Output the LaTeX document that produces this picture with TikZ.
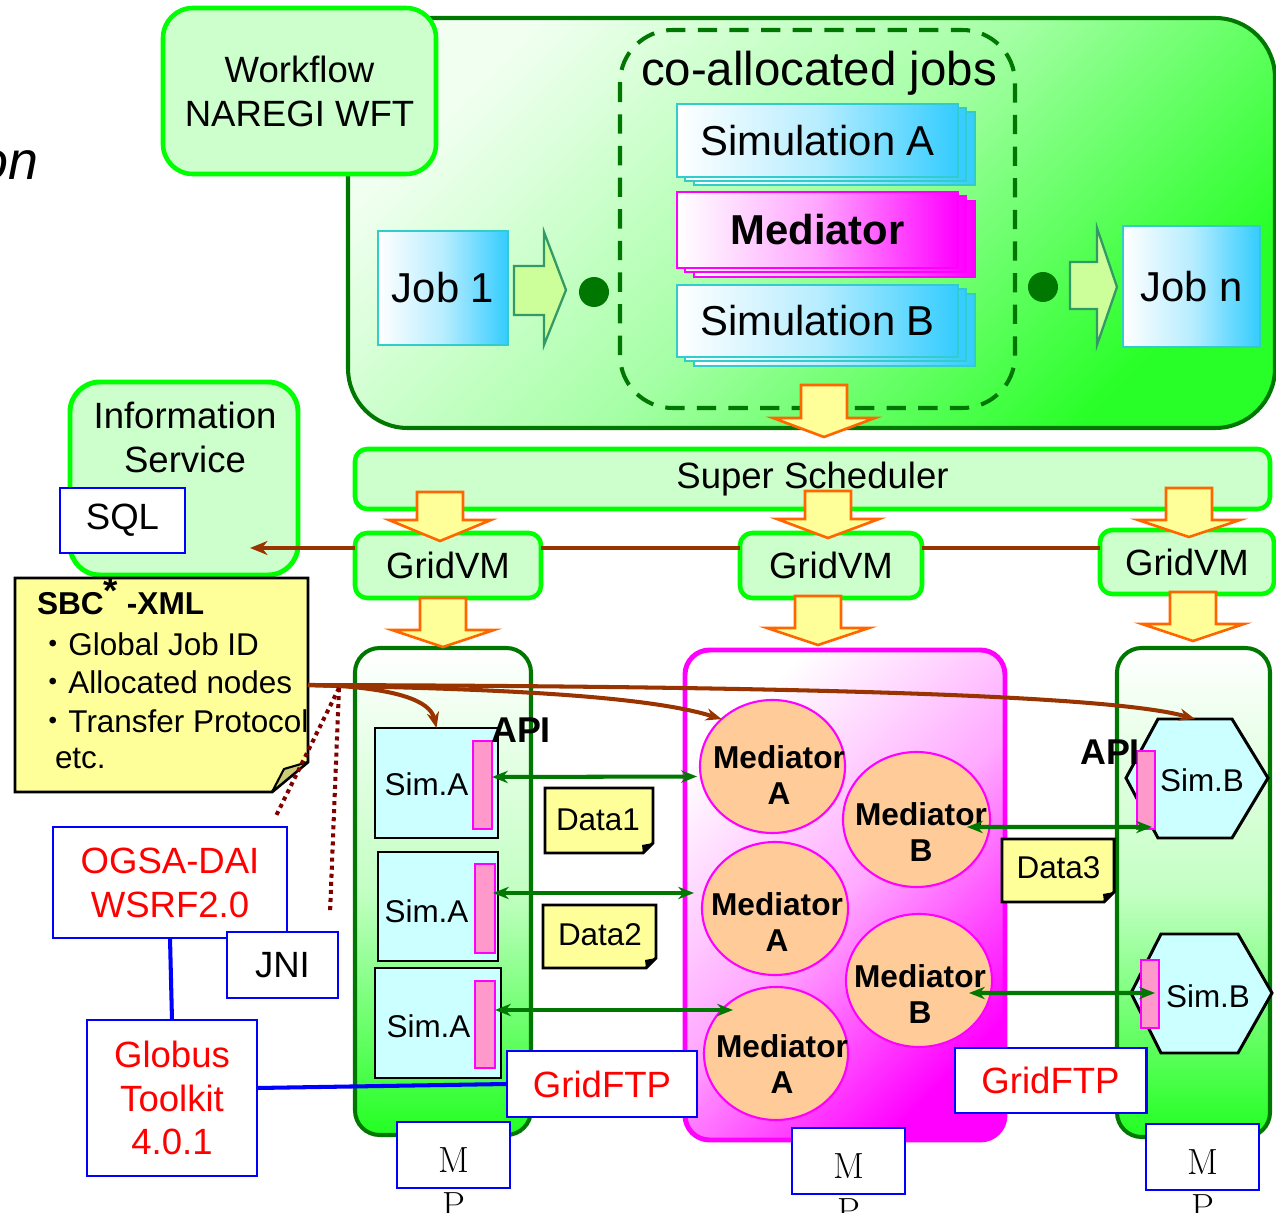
\documentclass[tikz,border=0pt]{standalone}
\usepackage{fontspec}
\setsansfont{Liberation Sans}
\newfontfamily\cjk{Noto Sans CJK JP}
\usetikzlibrary{arrows.meta,calc,shapes.geometric}
\definecolor{lgreen}{HTML}{CCFFCC}
\definecolor{bgreen}{HTML}{00FF00}
\definecolor{dgreen}{HTML}{007700}
\definecolor{skyb}{HTML}{33CCFF}
\definecolor{tealb}{HTML}{33CCCC}
\definecolor{magc}{HTML}{FF00FF}
\definecolor{notey}{HTML}{FFFF99}
\definecolor{orng}{HTML}{FF6600}
\definecolor{brn}{HTML}{993300}
\definecolor{drd}{HTML}{800000}
\definecolor{pinkbar}{HTML}{FF99CC}
\definecolor{simfill}{HTML}{CCFFFF}
\definecolor{medfill}{HTML}{FFCC99}
\definecolor{arrfill}{HTML}{CCFF99}
\definecolor{arrline}{HTML}{339966}
\definecolor{foldc}{HTML}{CCCC77}
\definecolor{vgreen}{HTML}{22FF22}
\definecolor{blu}{HTML}{0000FF}
\definecolor{topl}{RGB}{240,255,240}
\definecolor{botr}{RGB}{40,255,40}
\definecolor{midt}{RGB}{165,255,165}
\definecolor{midg}{RGB}{195,255,195}
\definecolor{midm}{RGB}{255,170,255}
\newcommand{\fatdown}[4]{%
  \draw[fatarrow] (#1-23,#2) -- (#1+23,#2) -- (#1+23,#3) -- (#1+51,#3) -- (#1,#4) -- (#1-51,#3) -- (#1-23,#3) -- cycle;}
\begin{document}
\begin{tikzpicture}[x=0.02cm,y=-0.02cm,
  every node/.style={font=\sffamily, inner sep=0pt, outer sep=0pt},
  sz/.style 2 args={minimum width=#1*0.02cm, minimum height=#2*0.02cm},
  f21/.style={font=\sffamily\fontsize{20.8pt}{25pt}\selectfont},
  f24/.style={font=\sffamily\fontsize{23.8pt}{28pt}\selectfont},
  f27/.style={font=\sffamily\fontsize{27pt}{32pt}\selectfont},
  f18/.style={font=\sffamily\fontsize{17.9pt}{22pt}\selectfont},
  f18b/.style={font=\sffamily\bfseries\fontsize{18pt}{21pt}\selectfont},
  apif/.style={font=\sffamily\bfseries\fontsize{20.4pt}{24pt}\selectfont},
  mpf/.style={font=\rmfamily\fontsize{20.7pt}{25pt}\selectfont},
  greenbox/.style={draw=bgreen, line width=2.6pt, fill=lgreen},
  jobbox/.style={draw=tealb, line width=1.2pt, left color=white, right color=skyb, middle color=skyb!35},
  medbox/.style={draw=magc, line width=1.2pt, left color=white, right color=magc, middle color=magc!35},
  fatarrow/.style={draw=orng, line width=1.5pt, fill=notey, line join=miter},
  blockarr/.style={draw=arrline, line width=1.3pt, fill=arrfill, line join=miter},
  simbox/.style={draw=black, line width=1.7pt, fill=simfill},
  apibar/.style={draw=magc, line width=0.6pt, fill=pinkbar},
  medell/.style={ellipse, draw=magc, line width=1.2pt, fill=medfill},
  notebox/.style={draw=black, line width=1.7pt, fill=notey, line join=miter},
  bluebox/.style={draw=blu, line width=1.5pt, fill=white},
  brnline/.style={draw=brn, line width=2.3pt},
  garrow/.style={draw=dgreen, line width=2.3pt, {Stealth[length=9pt,width=7pt]}-{Stealth[length=9pt,width=7pt]}},
  dotline/.style={draw=drd, line width=2.3pt, dash pattern=on 2.3pt off 2.3pt}
]
\useasboundingbox (0,0) rectangle (1276,1213);
\clip (0,0) rectangle (1276,1213);

% fragment of title
\node[font=\sffamily\itshape\fontsize{30.6pt}{36pt}\selectfont, anchor=base east] (onfrag) at (38,180) {on};

% top workflow area
\draw[draw=dgreen, line width=2.3pt, rounded corners=34pt, top color=topl, bottom color=botr, middle color=midt, shading angle=45] (348,18) rectangle (1275,428);
\node[greenbox, rounded corners=17pt, sz={273}{166}, f21, align=center] (wft) at (299.5,91) {Workflow\\NAREGI WFT};
\draw[draw=dgreen, line width=2.3pt, dash pattern=on 11pt off 7pt, rounded corners=30pt] (620,30) rectangle (1015,408);
\node[f27] (coalloc) at (819,73.5) {co-allocated jobs};

\foreach \d/\e in {17/8, 8/4} \draw[jobbox] (677+\d,104+\e) rectangle (958+\d,177+\e);
\node[jobbox, sz={281}{73}, f24] (simAtop) at (817.5,140.5) {Simulation A};
\foreach \d/\e in {17/9, 8/4} \draw[medbox] (677+\d,192+\e) rectangle (958+\d,268+\e);
\node[medbox, sz={281}{76}, f24] (medtop) at (817.5,230) {\bfseries Mediator};
\foreach \d/\e in {17/9, 8/4} \draw[jobbox] (677+\d,285+\e) rectangle (958+\d,357+\e);
\node[jobbox, sz={281}{72}, f24] (simBtop) at (817.5,321) {Simulation B};

\node[jobbox, sz={130}{114}, f24] (job1) at (443,288) {Job 1};
\node[jobbox, sz={137}{121}, f24] (jobn) at (1191.5,286.5) {Job n};
\draw[blockarr] (514,266) -- (544,266) -- (544,232) -- (566,290) -- (544,345) -- (544,315) -- (514,315) -- cycle;
\draw[blockarr] (1070,262) -- (1097,262) -- (1097,228) -- (1117,287) -- (1097,345) -- (1097,309) -- (1070,309) -- cycle;
\node[circle, fill=dgreen, sz={30}{30}] (dot1) at (594,292) {};
\node[circle, fill=dgreen, sz={30}{30}] (dot2) at (1043,287) {};

\fatdown{824}{385}{418}{437}

% scheduler
\node[greenbox, rounded corners=7pt, sz={915}{60}, f21] (ss) at (812.5,479) {Super Scheduler};

% information service
\node[greenbox, line width=2.8pt, rounded corners=17pt, sz={228}{193}] (is) at (184,478.5) {};
\node[f21, align=center] (istxt) at (185,437) {Information\\Service};
\node[bluebox, sz={125}{65}, f21] (sql) at (122.5,520.5) {SQL};

% GridVMs
\node[greenbox, rounded corners=7pt, sz={186}{65}, f21] (gvl) at (448,565.5) {GridVM};
\node[greenbox, rounded corners=7pt, sz={182}{65}, f21] (gvm) at (831,565.5) {GridVM};
\node[greenbox, rounded corners=7pt, sz={174}{64}, f21] (gvr) at (1187,562) {GridVM};
\coordinate (isin) at (250,548);
\draw[brnline] (gvr.west |- isin) -- (gvm.east |- isin);
\draw[brnline] (gvm.west |- isin) -- (gvl.east |- isin);
\draw[brnline, -{Stealth[length=10pt,width=8pt]}] (gvl.west |- isin) -- (isin);

\fatdown{440}{492}{520}{541}
\fatdown{828}{491}{519}{538}
\fatdown{1189}{488}{520}{537}

% containers
\node[draw=dgreen, line width=2.3pt, rounded corners=14pt, top color=white, bottom color=vgreen, middle color=midg, sz={176}{487}] (contL) at (443,891.5) {};
\node[draw=magc, line width=2.8pt, rounded corners=14pt, top color=white, bottom color=magc, middle color=midm, shading angle=45, sz={320}{490}] (contM) at (845,895) {};
\node[draw=dgreen, line width=2.3pt, rounded corners=14pt, top color=white, bottom color=vgreen, middle color=midg, sz={153}{489}] (contR) at (1193.5,892.5) {};

\fatdown{443}{598}{630}{647}
\fatdown{818}{596}{628}{645}
\fatdown{1193}{592}{624}{641}

% SBC note
\draw[notebox] (15,578) -- (308,578) -- (308,762) -- (272,792) -- (15,792) -- cycle;
\draw[line width=1.2pt, fill=foldc, line join=round] (272,792) -- (284,769) -- (308,762) -- cycle;
\node[anchor=base west, f18b] (sbct) at (37,614) {SBC\raisebox{6pt}{\fontsize{21pt}{21pt}\selectfont *} -XML};
\node[anchor=base west, f18] (sbc1) at (37,655) {{\cjk ・}Global Job ID};
\node[anchor=base west, f18] (sbc2) at (37,693) {{\cjk ・}Allocated nodes};
\node[anchor=base west, f18] (sbc3) at (37,732) {{\cjk ・}Transfer Protocol};
\node[anchor=base west, f18] (sbc4) at (55,768) {etc.};

% Sim.A boxes
\node[simbox, sz={123}{110}] (simA1) at (436.5,783) {};
\node[f18] (simA1t) at (426.5,784) {Sim.A};
\node[apibar, sz={19}{88}] (bar1) at (482.5,785) {};
\node[simbox, sz={120}{109}] (simA2) at (438,906.5) {};
\node[f18] (simA2t) at (426.5,911) {Sim.A};
\node[apibar, sz={20}{89}] (bar2) at (485,908.5) {};
\node[simbox, sz={126}{110}] (simA3) at (438,1023) {};
\node[f18] (simA3t) at (428.5,1026) {Sim.A};
\node[apibar, sz={20}{87}] (bar3) at (485,1024.5) {};
\node[apif] (api1) at (521,730.5) {API};

% mediators
\node[medell, sz={145}{133}] (ma1) at (772.5,766.5) {};
\node[f18b, align=center] (ma1t) at (779,775) {Mediator\\A};
\node[medell, sz={147}{135}] (mb1) at (916.5,819.5) {};
\node[f18b, align=center] (mb1t) at (921,832) {Mediator\\B};
\node[medell, sz={146}{133}] (ma2) at (775,908.5) {};
\node[f18b, align=center] (ma2t) at (777,922) {Mediator\\A};
\node[medell, sz={146}{133}] (mb2) at (919,980.5) {};
\node[f18b, align=center] (mb2t) at (920,994) {Mediator\\B};
\node[medell, sz={144}{133}] (ma3) at (776,1053.5) {};
\node[f18b, align=center] (ma3t) at (782,1064) {Mediator\\A};

% data notes
\draw[notebox] (545,788) -- (653,788) -- (653,843) -- (643,853) -- (545,853) -- cycle;
\fill (653,843) -- (643,853) -- (642,845) -- cycle;
\node[f18] (d1) at (598,820) {Data1};
\draw[notebox] (543,905) -- (656,905) -- (656,958) -- (646,968) -- (543,968) -- cycle;
\fill (656,958) -- (646,968) -- (645,960) -- cycle;
\node[f18] (d2) at (600,935) {Data2};
\draw[notebox] (1002,839) -- (1114,839) -- (1114,892) -- (1104,902) -- (1002,902) -- cycle;
\fill (1114,892) -- (1104,902) -- (1103,894) -- cycle;
\node[f18] (d3) at (1058.5,868) {Data3};

% Sim.B hexagons
\draw[simbox] (1126,778) -- (1158,719) -- (1232,719) -- (1268,778) -- (1232,838) -- (1158,838) -- cycle;
\coordinate (hexB1top) at (1195,719);
\node[apibar, sz={18}{78}] (pb1) at (1146,790) {};
\node[f18] (simB1t) at (1202,780) {Sim.B};
\draw[simbox] (1131,993) -- (1161,934) -- (1238,934) -- (1272,993) -- (1238,1053) -- (1161,1053) -- cycle;
\node[apibar, sz={18}{68}] (pb2) at (1150,994) {};
\node[f18] (simB2t) at (1208,996) {Sim.B};
\node[apif] (api2) at (1110,752) {API};

% green data arrows
\draw[garrow] ($(bar1.east)+(0,-8)$) -- ($(ma1.west)+(-3,10)$);
\draw[garrow] ($(bar2.east)+(-2,-15.5)$) -- ($(ma2.west)+(-8,-15.5)$);
\draw[garrow] ($(bar3.east)+(0,-14.5)$) -- ($(ma3.west)+(29,-43.5)$);
\draw[garrow] ($(mb1.center)+(50.5,7.5)$) -- ($(pb1.south east)+(-3,-2)$);
\draw[garrow] ($(mb2.center)+(50,12.5)$) -- ($(pb2.east)+(-4,-1)$);

% brown arrows from SBC note
\coordinate (sbcout) at (308,685);
\draw[brnline, -{Stealth[length=9pt,width=7pt]}] (sbcout) -- (340,686) .. controls (395,690) and (430,700) .. (simA1.north);
\draw[brnline, -{Stealth[length=9pt,width=7pt]}] (sbcout) -- (340,686) .. controls (550,690) and (660,700) .. (ma1.137);
\draw[brnline, -{Stealth[length=9pt,width=7pt]}] (sbcout) .. controls (700,686) and (1100,692) .. (hexB1top);

% dotted links
\coordinate (dsplit) at (339,688);
\coordinate (dotA) at (275,818);
\coordinate (dotB) at (330,913);
\draw[dotline] (dsplit) -- (dotA);
\draw[dotline] (dsplit) -- (dotB);

% middleware boxes
\node[bluebox, sz={234}{111}, f21, text=red, align=center] (ogsa) at (170,882.5) {OGSA-DAI\\WSRF2.0};
\node[bluebox, sz={111}{66}, f21] (jni) at (282.5,965) {JNI};
\node[bluebox, sz={170}{156}, f21, text=red, align=center] (globus) at (172,1098) {Globus\\Toolkit\\4.0.1};
\draw[draw=blu, line width=2.3pt] (ogsa.south) -- (globus.north);
\draw[draw=blu, line width=2.3pt] ($(globus.east)+(0,-10)$) -- (507,1084);
\node[bluebox, line width=1.7pt, sz={190}{66}, f21, text=red] (ftp1) at (602,1084) {GridFTP};
\node[bluebox, line width=1.7pt, sz={191}{65}, f21, text=red] (ftp2) at (1050.5,1080.5) {GridFTP};

% M P boxes
\node[bluebox, sz={113}{66}] (mp1) at (453.5,1155) {};
\node[mpf, anchor=base] (mp1m) at (453.5,1172) {M};
\node[mpf, anchor=base] (mp1p) at (453.5,1217) {P};
\node[bluebox, sz={113}{66}] (mp2) at (848.5,1161) {};
\node[mpf, anchor=base] (mp2m) at (848.5,1178) {M};
\node[mpf, anchor=base] (mp2p) at (848.5,1223) {P};
\node[bluebox, sz={113}{66}] (mp3) at (1202.5,1157) {};
\node[mpf, anchor=base] (mp3m) at (1202.5,1174) {M};
\node[mpf, anchor=base] (mp3p) at (1202.5,1219) {P};
\end{tikzpicture}
\end{document}
